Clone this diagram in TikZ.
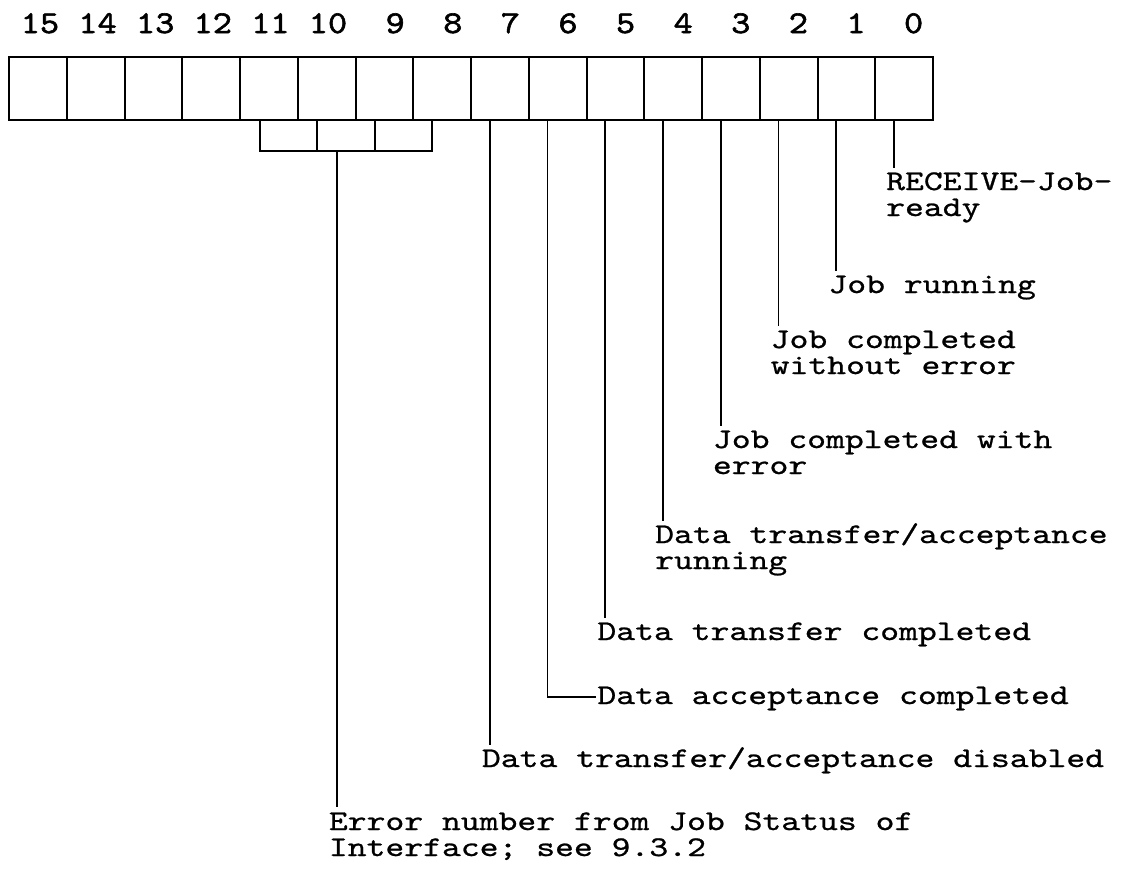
\documentclass[tikz,border=0pt]{standalone}
\usepackage{fontspec}
\usetikzlibrary{calc}
\newfontfamily\lblfont{lmmono10-regular.otf}[FakeStretch=1.26,FakeBold=0.8]
\newfontfamily\numfont{lmmono10-regular.otf}[FakeStretch=1.15,FakeBold=1.8]
\begin{document}
\begin{tikzpicture}[x=1pt,y=-1pt,
  cell/.style={draw,line width=2pt,minimum width=57.75pt,minimum height=63.5pt,inner sep=0pt,outer sep=0pt},
  bcell/.style={draw,line width=2pt,minimum width=57.3pt,minimum height=31pt,inner sep=0pt,outer sep=0pt},
  bitnum/.style={font=\numfont\fontsize{31.75}{32}\selectfont,anchor=base,inner sep=0pt},
  lbl/.style={font=\lblfont\fontsize{28.5}{26}\selectfont,anchor=base west,inner sep=0pt},
  conn/.style={line width=1.8pt}]
\useasboundingbox (0,0) rectangle (1128,871);
% register cells
\foreach \b in {0,...,15}
  \node[cell] (b\b) at ({37.875+57.75*(15-\b)},88.25) {};
% bit numbers
\foreach \b/\k in {15/0,14/3,13/6,12/9,11/12,10/15,9/18.5,8/21.5,7/24.5,6/27.5,5/30.5,4/33.5,3/36.5,2/39.5,1/42.5,0/45.5}
  \node[bitnum] (n\b) at ({40+19.2*\k},33) {\b};
% bracket for error number
\node[bcell] (e1) at (288.65,135.5) {};
\node[bcell] (e2) at (346,135.5) {};
\node[bcell] (e3) at (403.35,135.5) {};
% connector start points
\foreach \b in {0,...,7}
  \coordinate (c\b) at ({894-57.75*\b},120);
\coordinate (ce) at (336.7,151);
% labels
\node[lbl] (l0) at (886,190) {RECEIVE-Job-};
\node[lbl] (l0b) at (886,216) {ready};
\node[lbl] (l1) at (828.25,293) {Job running};
\node[lbl] (l2) at (770.5,348) {Job completed};
\node[lbl] (l2b) at (770.5,374) {without error};
\node[lbl] (l3) at (712.75,448) {Job completed with};
\node[lbl] (l3b) at (712.75,474) {error};
\node[lbl] (l4) at (655,543) {Data transfer/acceptance};
\node[lbl] (l4b) at (655,569) {running};
\node[lbl] (l5) at (597.25,640) {Data transfer completed};
\node[lbl] (l6) at (597.25,704) {Data acceptance completed};
\node[lbl] (l7) at (481.75,767) {Data transfer/acceptance disabled};
\node[lbl] (le) at (328.7,830) {Error number from Job Status of};
\node[lbl] (leb) at (328.7,856) {Interface; see 9.3.2};
% connectors
\foreach \b in {0,1,2,3,4,5,7}
  \draw[conn] (c\b) -- ($(c\b |- l\b.base)+(0,-22)$);
\draw[conn] (c6) |- ($(l6.base west)+(-1,-7.3)$);
\draw[conn] (ce) -- ($(ce |- le.base)+(0,-23)$);
\end{tikzpicture}
\end{document}
